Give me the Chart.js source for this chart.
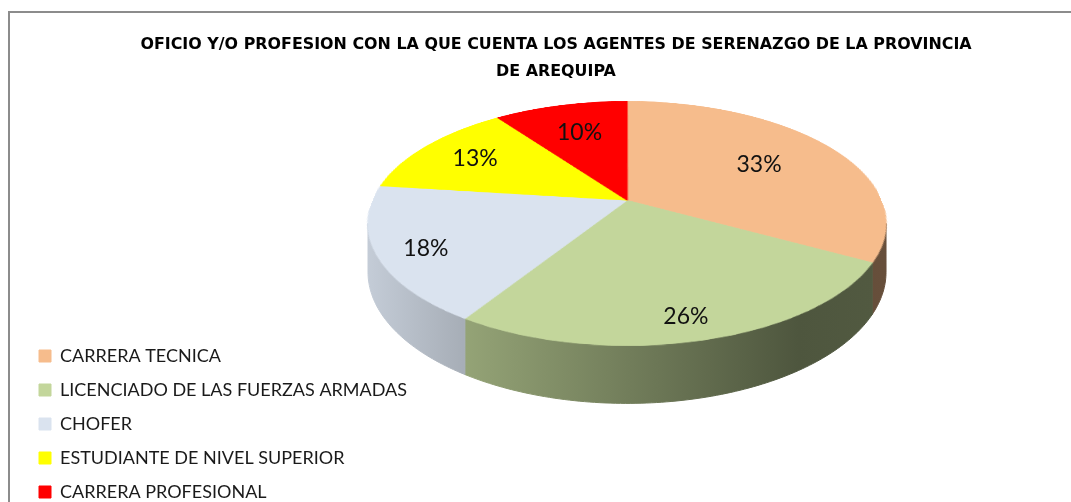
<!DOCTYPE html>
<html lang="es">
<head>
    <meta charset="UTF-8">
    <title>Oficio y/o profesión - Serenazgo Arequipa</title>
    <script src="https://cdn.jsdelivr.net/npm/chart.js@4.4.1/dist/chart.umd.min.js"></script>
    <style>
        html, body { margin: 0; padding: 0; background: #fff; overflow: hidden; }
        #marco {
            position: absolute; left: 8px; top: 11px;
            width: 1100px; height: 530px;
            border-left: 2px solid #8c8c8c; border-top: 2px solid #8c8c8c;
        }
        #grafico { display: block; }
    </style>
</head>
<body>
    <div id="marco">
        <canvas id="grafico" width="1092" height="520"></canvas>
    </div>

    <script>
        const categorias = ['CARRERA TECNICA', 'LICENCIADO DE LAS FUERZAS ARMADAS', 'CHOFER',
                            'ESTUDIANTE DE NIVEL SUPERIOR', 'CARRERA PROFESIONAL'];
        const porcentajes = [33, 26, 18, 13, 10];
        const colores = ['#F6BC8C', '#C3D69B', '#DAE3EF', '#FFFF00', '#FF0000'];
        const titulo = ['OFICIO Y/O PROFESION CON LA QUE CUENTA LOS AGENTES DE SERENAZGO DE LA PROVINCIA',
                        'DE AREQUIPA'];

        // camara del pastel 3D (perspectiva)
        const camara = { a: 0.1886, hx: 1.21, hy: 0.560, grosor: 0.224, dx: -126, dy: -106 };
        // sombreado del costado de izquierda a derecha
        const sombra = [[0, 0.9], [0.19, 0.76], [0.83, 0.40], [1, 0.42]];

        function oscurecer(hex, f) {
            const n = parseInt(hex.slice(1), 16);
            const r = (n >> 16) & 255, g = (n >> 8) & 255, b = n & 255;
            return 'rgb(' + Math.round(r * f) + ',' + Math.round(g * f) + ',' + Math.round(b * f) + ')';
        }

        const pastel3d = {
            id: 'pastel3d',
            beforeDatasetsDraw(chart) {
                const arcos = chart.getDatasetMeta(0).data;
                const R = arcos[0].outerRadius, ox = arcos[0].x, oy = arcos[0].y;
                const ctx = chart.ctx;
                const a = camara.a, Hx = camara.hx * R, K = camara.hy * R, D = camara.grosor * R;
                const cx = ox + camara.dx, cy = oy + camara.dy;
                const proyectar = (u, t) => { const s = 1 / (1 - a * t); return [cx + Hx * u * s, cy + K * t * s, s]; };
                chart.$vista = { proyectar, D };

                // el pastel plano dibujado por Chart.js en un lienzo aparte
                const off = document.createElement('canvas');
                off.width = chart.width; off.height = chart.height;
                const octx = off.getContext('2d');
                arcos.forEach(arc => arc.draw(octx));

                // costados
                const th = Math.asin(a);
                arcos.forEach((arc, i) => {
                    const lo = Math.max(arc.startAngle, th), hi = Math.min(arc.endAngle, Math.PI - th);
                    if (hi <= lo) return;
                    const n = Math.max(8, Math.ceil((hi - lo) * 60));
                    const arriba = [], abajo = [];
                    for (let k = 0; k <= n; k++) {
                        const ang = lo + (hi - lo) * k / n;
                        const [x, y, s] = proyectar(Math.cos(ang), Math.sin(ang));
                        arriba.push([x, y]); abajo.push([x, y + D * s]);
                    }
                    ctx.save();
                    ctx.beginPath();
                    ctx.moveTo(arriba[0][0], arriba[0][1]);
                    arriba.forEach(p => ctx.lineTo(p[0], p[1]));
                    for (let k = n; k >= 0; k--) ctx.lineTo(abajo[k][0], abajo[k][1]);
                    ctx.closePath();
                    const g = ctx.createLinearGradient(cx - Hx * 1.02, 0, cx + Hx * 1.02, 0);
                    sombra.forEach(([pos, f]) => g.addColorStop(pos, oscurecer(colores[i], f)));
                    ctx.fillStyle = g; ctx.strokeStyle = g; ctx.lineWidth = 1;
                    ctx.fill(); ctx.stroke();
                    ctx.restore();
                });

                // cara superior: cada fila del circulo se proyecta con perspectiva
                const yTop = cy - K / (1 + a), yBot = cy + K / (1 - a);
                const tEn = y => (y - cy) / (K + a * (y - cy));
                for (let y = Math.floor(yTop); y < Math.ceil(yBot); y++) {
                    const t0 = Math.max(-1, tEn(y)), t1 = Math.min(1, tEn(y + 1));
                    if (t1 <= t0) continue;
                    const s = 1 / (1 - a * (t0 + t1) / 2);
                    ctx.drawImage(off, ox - R, oy + t0 * R, 2 * R, (t1 - t0) * R, cx - Hx * s, y, 2 * Hx * s, 1);
                }
                return false;
            },
            afterDraw(chart) {
                const v = chart.$vista;
                if (!v) return;
                const ctx = chart.ctx;
                ctx.save();
                ctx.font = '23px Lato';
                ctx.fillStyle = '#111';
                ctx.textAlign = 'center';
                ctx.textBaseline = 'middle';
                chart.getDatasetMeta(0).data.forEach((arc, i) => {
                    const mid = (arc.startAngle + arc.endAngle) / 2;
                    const sn = Math.sin(mid), cs = Math.cos(mid);
                    const r = 0.64 + 0.16 * Math.max(0, sn) + 0.12 * Math.max(0, -cs);
                    const [x, y, s] = v.proyectar(cs * r, sn * r);
                    ctx.fillText(porcentajes[i] + '%', x, y + v.D * s * Math.max(0, sn) * 0.2);
                });
                ctx.restore();
            }
        };

        const ctx = document.getElementById('grafico').getContext('2d');
        new Chart(ctx, {
            type: 'pie',
            data: {
                labels: categorias,
                datasets: [{
                    data: porcentajes,
                    backgroundColor: colores,
                    borderColor: colores,
                    borderWidth: 1
                }]
            },
            options: {
                responsive: false,
                animation: false,
                events: [],
                layout: { padding: { left: 13, right: 13, bottom: 16 } },
                plugins: {
                    title: {
                        display: true,
                        text: titulo,
                        color: '#000',
                        font: { family: 'DejaVu Sans', size: 15.9, weight: 'bold', lineHeight: 1.7 },
                        padding: { top: 18.5, bottom: 10 }
                    },
                    legend: {
                        position: 'left',
                        align: 'end',
                        labels: {
                            boxWidth: 12,
                            boxHeight: 12,
                            padding: 16,
                            color: '#1a1a1a',
                            font: { family: 'Lato', size: 18 }
                        }
                    },
                    tooltip: { enabled: false }
                }
            },
            plugins: [pastel3d]
        });
    </script>
</body>
</html>
